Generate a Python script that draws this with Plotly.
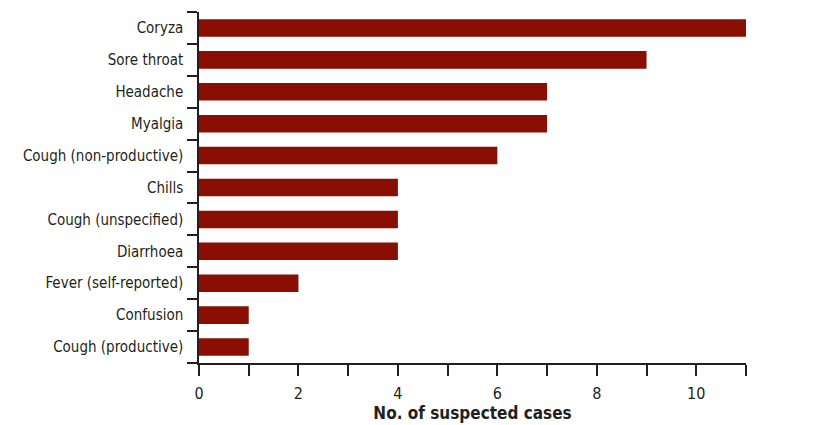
import plotly.graph_objects as go

symptoms = ["Coryza", "Sore throat", "Headache", "Myalgia", "Cough (non-productive)",
            "Chills", "Cough (unspecified)", "Diarrhoea", "Fever (self-reported)",
            "Confusion", "Cough (productive)"]
cases = [11, 9, 7, 7, 6, 4, 4, 4, 2, 1, 1]

FONT = "Liberation Sans Narrow, DejaVu Sans Condensed, Arial Narrow, sans-serif"

fig = go.Figure(go.Bar(
    x=cases, y=symptoms, orientation="h",
    marker=dict(color="#8a0e02", line=dict(width=0)),
))

fig.update_layout(
    width=807, height=417,
    margin=dict(l=191, r=69, t=4, b=62, autoexpand=False),
    plot_bgcolor="white", paper_bgcolor="white",
    bargap=0.45,
    showlegend=False,
    font=dict(family=FONT, size=15, color="#231f20"),
)
fig.update_xaxes(
    range=[0, 11], dtick=2, tick0=0,
    showgrid=False, zeroline=False, automargin=False,
    showline=True, linecolor="#231f20", linewidth=1.5,
    ticks="outside", ticklen=11, tickwidth=1.5, tickcolor="#231f20",
    minor=dict(dtick=1, tick0=0, ticks="outside", ticklen=11, tickwidth=1.5, tickcolor="#231f20", showgrid=False),
    tickfont=dict(size=16), ticklabelstandoff=4,
    title=dict(text="<b>No. of suspected cases</b>", font=dict(size=17), standoff=2),
)
fig.update_yaxes(
    categoryorder="array", categoryarray=symptoms[::-1],
    showgrid=False, zeroline=False, automargin=False,
    showline=True, linecolor="#231f20", linewidth=1.5,
    ticks="outside", ticklen=10, tickwidth=1.5, tickcolor="#231f20",
    tickson="boundaries", ticklabelstandoff=11,
    tickfont=dict(size=15),
)

fig.write_html("out.html")
